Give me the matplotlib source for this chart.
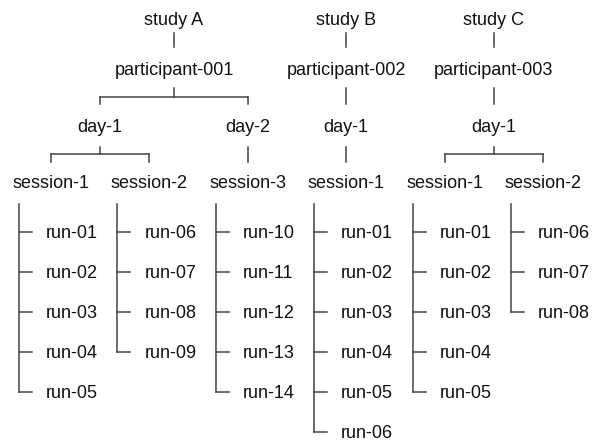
import matplotlib
matplotlib.use('Agg')
import matplotlib.pyplot as plt

plt.rcParams['font.family'] = ['Liberation Sans', 'DejaVu Sans']

# tree data
studies = ['study A', 'study B', 'study C']
participants = ['participant-001', 'participant-002', 'participant-003']
days = [['day-1', 'day-2'], ['day-1'], ['day-1']]
sessions = [
    [['session-1', 'session-2'], ['session-3']],
    [['session-1']],
    [['session-1', 'session-2']],
]
runs = [
    [[['run-01', 'run-02', 'run-03', 'run-04', 'run-05'],
      ['run-06', 'run-07', 'run-08', 'run-09']],
     [['run-10', 'run-11', 'run-12', 'run-13', 'run-14']]],
    [[['run-01', 'run-02', 'run-03', 'run-04', 'run-05', 'run-06']]],
    [[['run-01', 'run-02', 'run-03', 'run-04', 'run-05'],
      ['run-06', 'run-07', 'run-08']]],
]

# layout (pixels)
W, H = 598, 441
col0, col_step = 51, 98.4
base = [25, 75, 132, 188]          # text baselines per level
conn = [(33, 47), (88, 104), (147, 162)]  # connector top / bottom
mid = [40, 97, 154]                # bracket height
run_base0, run_step = 238, 40
FS = 13
LC = '#444444'
TC = '#111111'
LW = 1.1

fig = plt.figure(figsize=(W / 100, H / 100), dpi=100)
ax = fig.add_axes([0, 0, 1, 1])
ax.set_xlim(0, W)
ax.set_ylim(H, 0)
ax.axis('off')


def label(x, y, s, ha='center'):
    ax.text(x, y, s, ha=ha, va='baseline', fontsize=FS, color=TC)


def connect(px, cxs, lvl):
    top, bot = conn[lvl]
    if len(cxs) == 1:
        ax.plot([px, px], [top, bot], color=LC, lw=LW)
    else:
        m = mid[lvl]
        ax.plot([px, px], [top, m], color=LC, lw=LW)
        ax.plot([cxs[0], cxs[-1]], [m, m], color=LC, lw=LW)
        for cx in cxs:
            ax.plot([cx, cx], [m, bot], color=LC, lw=LW)


col = 0
for si, study in enumerate(studies):
    day_xs = []
    for di, day in enumerate(days[si]):
        ses_xs = []
        for ki, ses in enumerate(sessions[si][di]):
            x = col0 + col * col_step
            col += 1
            ses_xs.append(x)
            label(x, base[3], ses)
            # run list
            vx = x - 32
            rl = runs[si][di][ki]
            ys = [run_base0 + j * run_step - 6 for j in range(len(rl))]
            ax.plot([vx, vx], [204, ys[-1]], color=LC, lw=LW)
            for j, r in enumerate(rl):
                ax.plot([vx, vx + 13], [ys[j], ys[j]], color=LC, lw=LW)
                label(vx + 27, run_base0 + j * run_step, r, ha='left')
        dx = (ses_xs[0] + ses_xs[-1]) / 2
        day_xs.append(dx)
        label(dx, base[2], day)
        connect(dx, ses_xs, 2)
    px = (day_xs[0] + day_xs[-1]) / 2
    label(px, base[1], participants[si])
    connect(px, day_xs, 1)
    label(px, base[0], study)
    connect(px, [px], 0)

fig.savefig('out.png', dpi=100)
